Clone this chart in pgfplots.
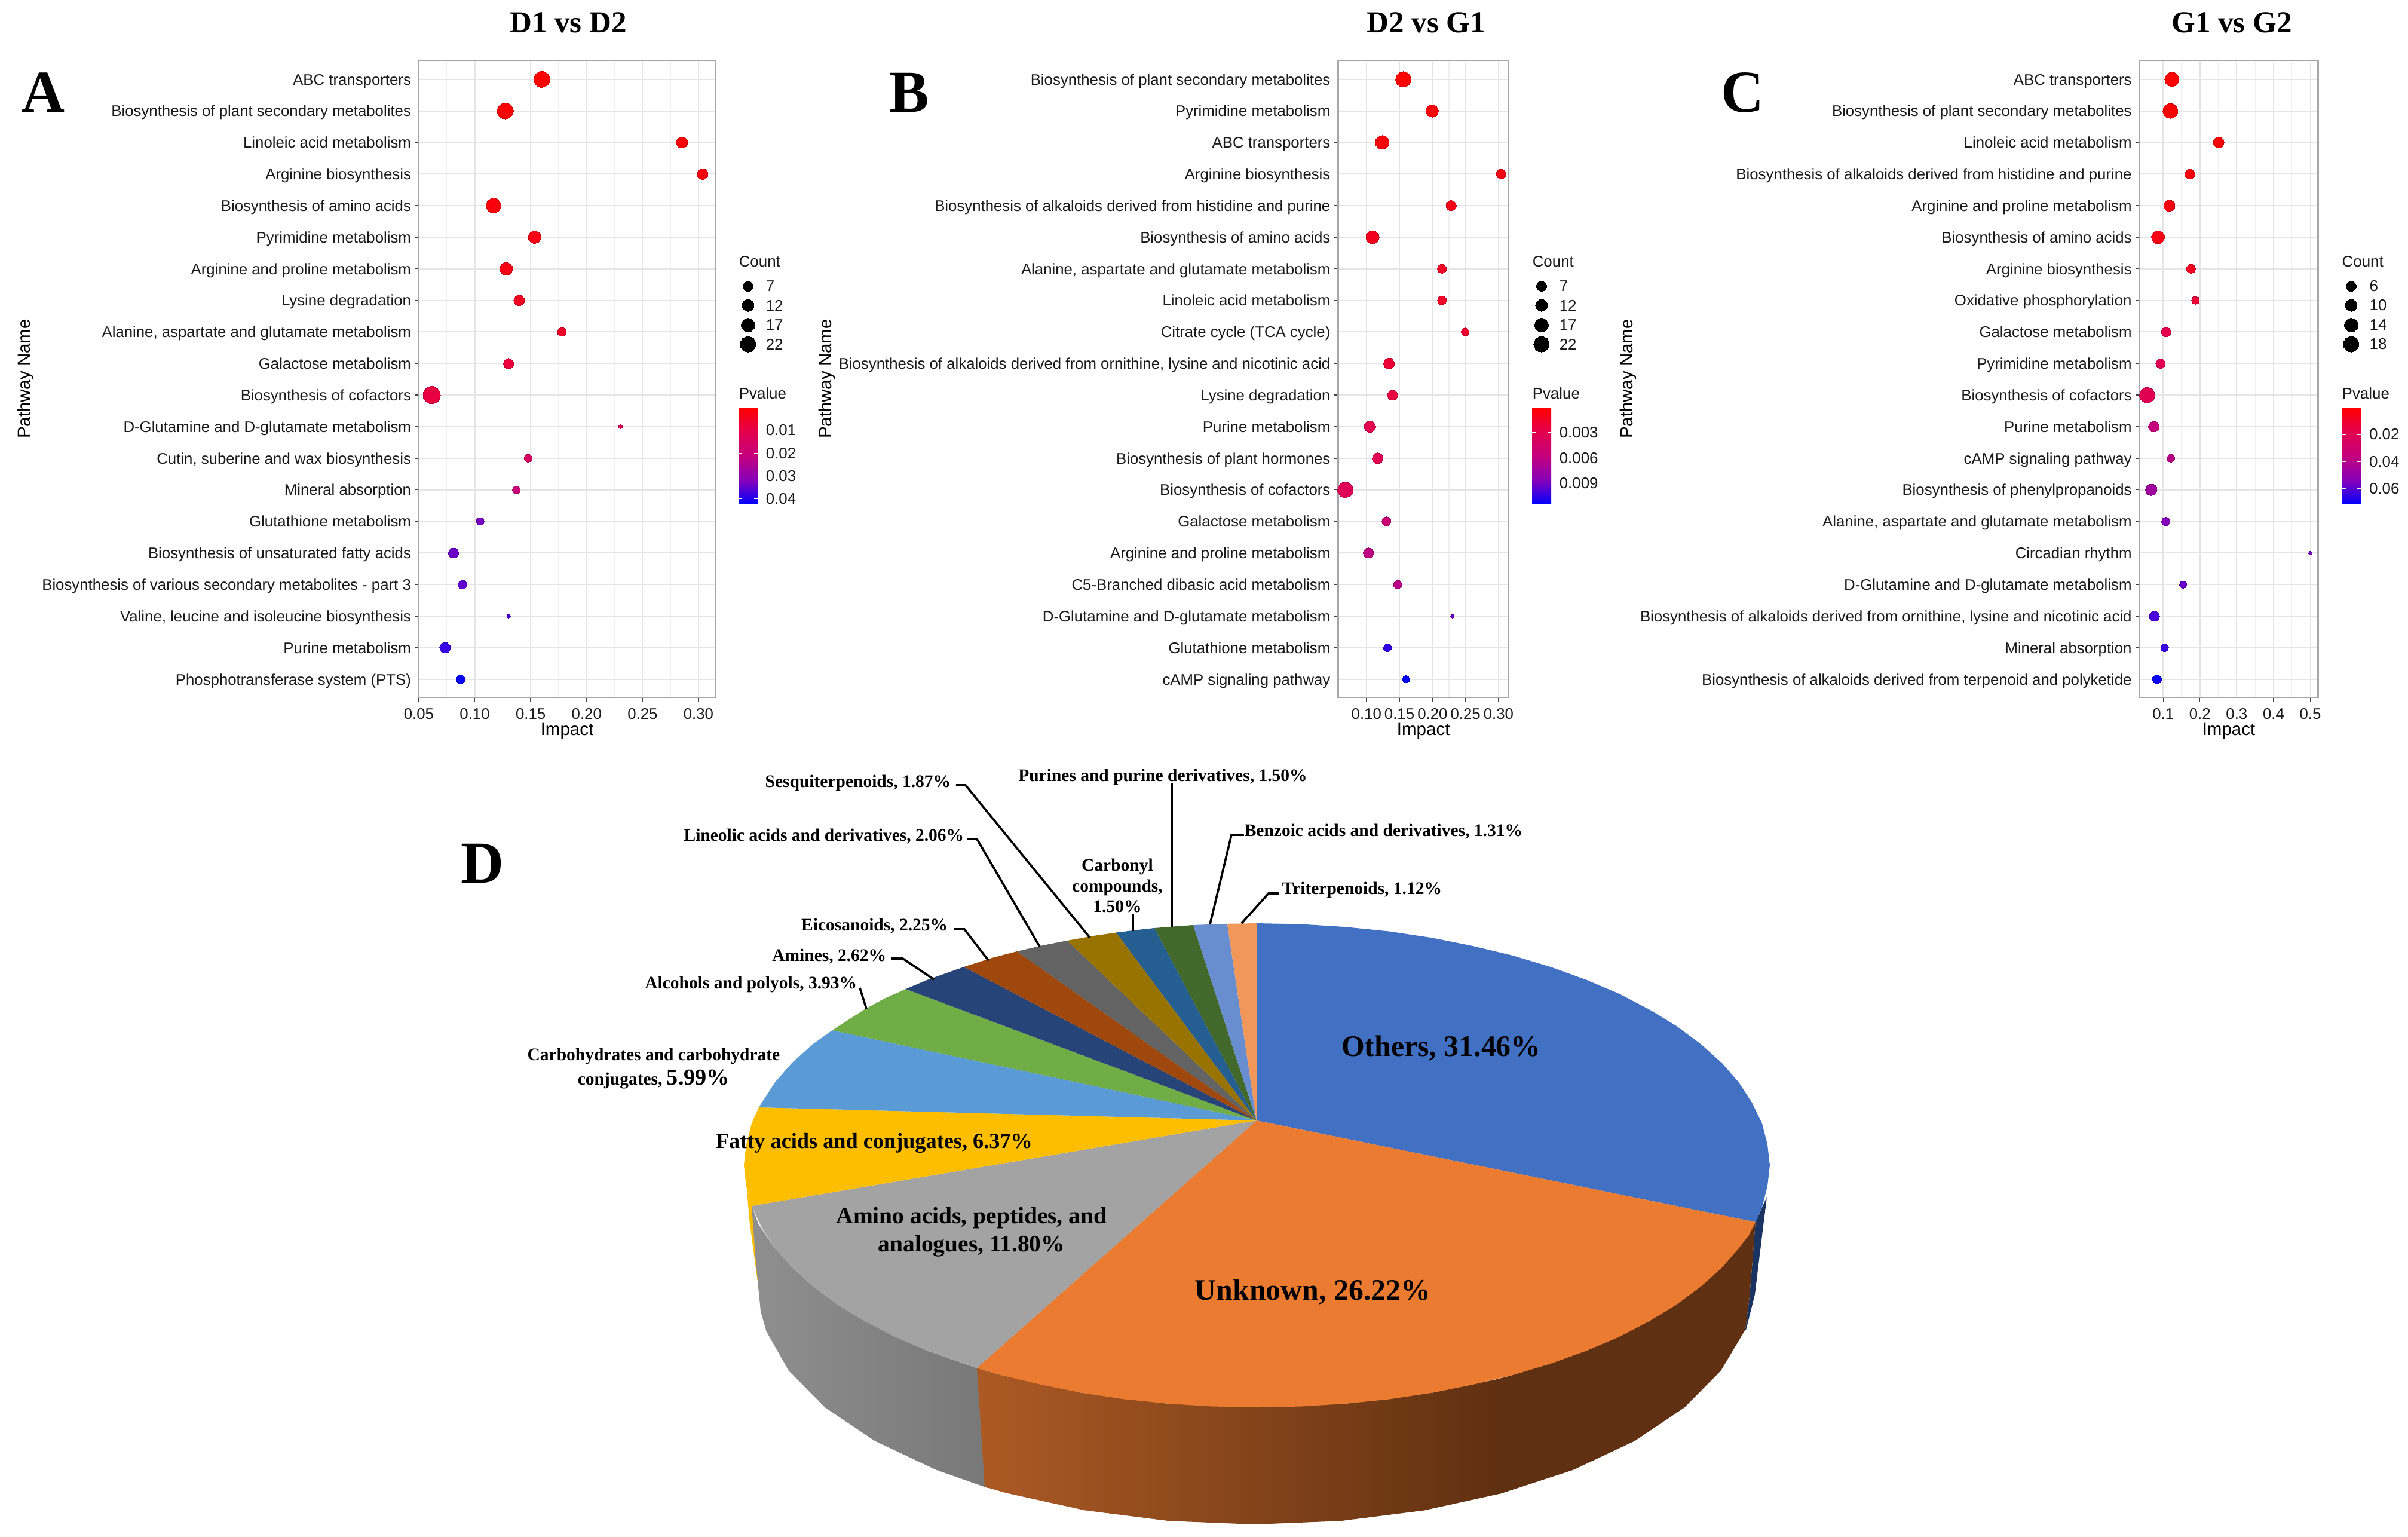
\documentclass[border=0pt]{standalone}
\usepackage{fontspec}
\setmainfont{Liberation Sans}
\newfontfamily\tnr{Liberation Serif}
\usepackage{pgfplots}
\usepackage{pgfplotstable}
\pgfplotsset{compat=1.18}
\usetikzlibrary{calc}
\newcommand\fs[1]{\fontsize{#1}{#1}\selectfont}

% pie colours
\definecolor{cOthers}{HTML}{4271C3}
\definecolor{cUnknown}{HTML}{EA7B30}
\definecolor{cAmino}{HTML}{A3A3A3}
\definecolor{cFatty}{HTML}{FDBE00}
\definecolor{cCarb}{HTML}{5B9BD5}
\definecolor{cAlc}{HTML}{70AD47}
\definecolor{cAmines}{HTML}{264478}
\definecolor{cEico}{HTML}{9E480E}
\definecolor{cLineo}{HTML}{636363}
\definecolor{cSesq}{HTML}{997300}
\definecolor{cCarbonyl}{HTML}{255E91}
\definecolor{cPurines}{HTML}{43682B}
\definecolor{cBenzoic}{HTML}{698ED0}
\definecolor{cTriter}{HTML}{F1975A}
\definecolor{cWallBlue}{HTML}{1B3361}

% impact, row, dot diameter (px of the reference), p value
\pgfplotstableread{
impact row d p
0.160 0 27 0.0003
0.1273 1 27 0.0005
0.2852 2 19 0.0010
0.3038 3 18 0.0015
0.1168 4 25 0.0020
0.1535 5 21 0.0030
0.1282 6 21 0.0030
0.1397 7 18 0.0050
0.1779 8 15 0.0060
0.1302 9 17 0.0080
0.0615 10 29 0.0090
0.2303 11 7 0.0120
0.1478 12 13 0.0150
0.1373 13 13 0.0200
0.1049 14 13 0.0330
0.0810 15 17 0.0340
0.0891 16 15 0.0350
0.1302 17 6 0.0370
0.0734 18 18 0.0380
0.0872 19 15 0.0420
}\tabA
\pgfplotstableread{
impact row d p
0.1560 0 26 0.0002
0.1996 1 21 0.0004
0.1241 2 23 0.0005
0.3039 3 16 0.0008
0.2284 4 17 0.0010
0.1093 5 22 0.0012
0.2144 6 15 0.0015
0.2144 7 15 0.0015
0.2494 8 13 0.0018
0.1342 9 18 0.0020
0.1397 10 17 0.0025
0.1054 11 19 0.0030
0.1171 12 18 0.0032
0.0681 13 26 0.0034
0.1303 14 15 0.0052
0.1031 15 17 0.0060
0.1475 16 14 0.0063
0.2300 17 6 0.0092
0.1319 18 13 0.0105
0.1600 19 12 0.0115
}\tabB
\pgfplotstableread{
impact row d p
0.1238 0 24 0.0005
0.1196 1 25 0.0008
0.2510 2 18 0.0020
0.1727 3 17 0.0030
0.1168 4 19 0.0040
0.0860 5 22 0.0050
0.1755 6 15 0.0080
0.1880 7 13 0.0130
0.1080 8 16 0.0180
0.0930 9 16 0.0200
0.0566 10 26 0.0200
0.0748 11 18 0.0350
0.1210 12 13 0.0390
0.0678 13 19 0.0460
0.1070 14 14 0.0540
0.5000 15 6 0.0560
0.1545 16 12 0.0580
0.0762 17 17 0.0620
0.1040 18 13 0.0640
0.0832 19 15 0.0700
}\tabC

% size legends, in reference px
\pgfplotstableread{
x y d
1252 479 17
1252 511 20
1252 544 23
1252 576 26
2580 479 17
2580 511 20
2580 544 23
2580 576 26
3935 479 17
3935 511 20
3935 544 23
3935 576 26
}\tabSizes

\pgfplotsset{
  panel/.style={
    scale only axis, height=266.5bp, anchor=south west, clip=false,
    y dir=reverse, ymin=-0.6, ymax=19.573, ytick={0,...,19},
    grid=both, minor x tick num=1, minor tick length=0pt,
    major grid style={draw=black!10, line width=0.5bp},
    minor grid style={draw=black!6, line width=0.3bp},
    axis line style={draw=black!35, line width=0.7bp},
    tick align=outside, major tick length=1.75bp,
    tick style={draw=black!75, line width=0.35bp},
    xtick pos=bottom, ytick pos=left,
    ticklabel style={font=\fs{6.47}, text=black!90},
    yticklabel style={inner sep=1.3bp, text height=4.66bp, text depth=0pt},
    xticklabel style={inner sep=2.6bp},
    xlabel=Impact, ylabel=Pathway Name,
    label style={font=\fs{7.4}},
    xlabel style={at={(axis description cs:0.5,0)}, anchor=center, yshift=-14bp},
    colormap={pv}{rgb255=(255,0,0) rgb255=(228,0,78) rgb255=(195,0,125) rgb255=(135,0,185) rgb255=(0,0,255)},
    colorbar shift/.style={xshift=0pt},
  },
  pvbar/.style={
    at={($(parent axis.south east)+(#1,80.75bp)$)}, anchor=south west,
    width=8bp, height=40.5bp, y dir=reverse, scaled y ticks=false,
    axis line style={draw=none},
    ytick pos=both, yticklabel pos=right, tick align=inside,
    major tick length=1.6bp, tick style={draw=white, line width=0.3bp},
    yticklabel style={font=\fs{6.5}, text=black!90, inner sep=0pt, xshift=3.25bp},
  },
  pts/.style={
    scatter, only marks, mark=*, scatter src=explicit,
    mark options={line width=0pt},
    visualization depends on={0.1255*\thisrow{d} \as \msz},
    scatter/@pre marker code/.append style={/tikz/mark size=\msz},
  },
  rim/.style={draw=none, forget plot},
  lead/.style={draw=black, line width=0.9bp, forget plot},
}
\tikzset{
  small/.style={inner sep=0pt, font=\tnr\bfseries\fs{7.4}, text height=0.7em, text depth=0.2em},
  leg/.style={inner sep=0pt, anchor=west, font=\fs{6.5}, text=black!90},
}

\begin{document}
\begin{tikzpicture}
\path[use as bounding box] (0,0) rectangle (1007.5bp,643bp);

% whole figure, in reference px: pie, leaders, letters, legends
\begin{axis}[
  at={(0bp,0bp)}, anchor=south west, scale only axis, width=1007.5bp, height=643bp,
  xmin=0, xmax=4030, ymin=0, ymax=2572, y dir=reverse, hide axis, clip=false,
]
% side wall
\addplot[rim, fill=cFatty] coordinates {(1250,1990) (1254,2040) (1262,2100) (1270,2160) (1276,2196) (1266,2110) (1258,2018)};
\addplot[rim, fill=cWallBlue] coordinates {(2957,2003) (2947,2084) (2937,2166) (2922,2226) (2921,2225) (2928,2170) (2933,2110) (2938,2045)};
\addplot[rim, left color=black!44, right color=black!53] coordinates {(1258,2018) (1270,2050) (1296.8,2088.5) (1360,2152.5) (1445.9,2210.3) (1551.7,2260.2) (1640,2291) (1653,2490) (1566.5,2459.5) (1464.2,2411.3) (1381.2,2355.5) (1320,2293.7) (1282.6,2227.9) (1273,2194) (1264,2100)};
\addplot[rim, left color={rgb,255:red,172;green,90;blue,36}, right color={rgb,255:red,95;green,48;blue,17}] coordinates {(1635,2289) (1674.2,2300.7) (1809.9,2330.6) (1954.4,2348.8) (2103.5,2355) (2252.6,2348.8) (2397.1,2330.6) (2510,2307) (2515,2498.6) (2383.9,2527.4) (2244.1,2545.1) (2100,2551) (1955.9,2545.1) (1816.1,2527.4) (1685,2498.6) (1648,2488)};
\addplot[rim, fill={rgb,255:red,95;green,48;blue,17}] coordinates {(2509,2307) (2532.8,2300.7) (2655.3,2260.2) (2761.1,2210.3) (2847,2152.5) (2910.2,2088.5) (2938,2045) (2933,2110) (2928,2170) (2921,2225) (2880,2293.7) (2818.8,2355.5) (2735.8,2411.3) (2633.5,2459.5) (2514,2498.6)};
% top face, wedge outlines
\addplot[rim, fill=cOthers] coordinates {(2103,1875) (2103.5,1545) (2178,1546.5) (2252.6,1551.2) (2325,1558.5) (2397.1,1569.4) (2465,1583) (2532.8,1599.3) (2595,1618) (2655.3,1639.8) (2710,1663) (2761.1,1689.7) (2806,1717) (2847,1747.5) (2882,1779) (2910.2,1811.5) (2932,1845) (2948.9,1879.7) (2958,1915) (2962,1950) (2958,1985) (2948.9,2020.3) (2938,2045)};
\addplot[rim, fill=cUnknown] coordinates {(2103,1875) (2938,2045) (2927,2067) (2910.2,2088.5) (2882,2121) (2847,2152.5) (2806,2183) (2761.1,2210.3) (2710,2237) (2655.3,2260.2) (2595,2282) (2532.8,2300.7) (2465,2317) (2397.1,2330.6) (2325,2341.5) (2252.6,2348.8) (2178,2353.5) (2103.5,2355) (2029,2353.5) (1954.4,2348.8) (1882,2341.5) (1809.9,2330.6) (1742,2317) (1674.2,2300.7) (1635,2289)};
\addplot[rim, fill=cAmino] coordinates {(2103,1875) (1635,2289) (1551.7,2260.2) (1497,2237) (1445.9,2210.3) (1401,2183) (1360,2152.5) (1325,2121) (1296.8,2088.5) (1275,2055) (1258,2018)};
\addplot[rim, fill=cFatty] coordinates {(2103,1875) (1258,2018) (1249,1985) (1245,1950) (1249,1915) (1258.1,1879.7) (1270,1853)};
\addplot[rim, fill=cCarb] coordinates {(2103,1875) (1270,1853) (1296.8,1811.5) (1325,1779) (1360,1747.5) (1393,1724)};
\addplot[rim, fill=cAlc] coordinates {(2103,1875) (1393,1724) (1445.9,1689.7) (1480,1671) (1516,1655)};
\addplot[rim, fill=cAmines] coordinates {(2103,1875) (1516,1655) (1551.7,1639.8) (1613,1618)};
\addplot[rim, fill=cEico] coordinates {(2103,1875) (1613,1618) (1660,1603) (1702,1592)};
\addplot[rim, fill=cLineo] coordinates {(2103,1875) (1702,1592) (1745,1582) (1786,1574)};
\addplot[rim, fill=cSesq] coordinates {(2103,1875) (1786,1574) (1830,1566) (1868,1560.5)};
\addplot[rim, fill=cCarbonyl] coordinates {(2103,1875) (1868,1560.5) (1900,1556.5) (1932,1553)};
\addplot[rim, fill=cPurines] coordinates {(2103,1875) (1932,1553) (1965,1550.3) (1997,1548)};
\addplot[rim, fill=cBenzoic] coordinates {(2103,1875) (1997,1548) (2054,1545.8)};
\addplot[rim, fill=cTriter] coordinates {(2103,1875) (2054,1545.8) (2103.5,1545)};
% leader lines
\addplot[lead] coordinates {(1600,1314) (1616,1314) (1824,1569)};
\addplot[lead] coordinates {(1619,1404) (1635,1404) (1740,1584)};
\addplot[lead] coordinates {(1961,1311) (1961,1552)};
\addplot[lead] coordinates {(2082,1397) (2061,1397) (2025,1547)};
\addplot[lead] coordinates {(2141,1495) (2123,1495) (2078,1545)};
\addplot[lead] coordinates {(1896,1530) (1896,1558)};
\addplot[lead] coordinates {(1597,1555) (1614,1555) (1654,1607)};
\addplot[lead] coordinates {(1492,1604) (1511,1604) (1563,1639)};
\addplot[lead] coordinates {(1439,1653) (1450,1688)};
% count legends
\addplot[scatter, only marks, mark=*, forget plot, point meta=0,
  scatter/use mapped color={draw=black, fill=black}, mark options={line width=0pt},
  visualization depends on={0.1255*\thisrow{d} \as \msz},
  scatter/@pre marker code/.append style={/tikz/mark size=\msz}]
  table[x=x, y=y] \tabSizes;
% titles and letters
\foreach \xx/\tt in {951/D1 vs D2, 2387/D2 vs G1, 3735/G1 vs G2}{
  \edef\tmp{\noexpand\node[inner sep=0pt, font=\noexpand\tnr\noexpand\bfseries\noexpand\fs{12.8}] at (axis cs:\xx,38) {\tt};}\tmp
}
\foreach \xx/\yy/\tt in {36/187/A, 1488/187/B, 2880/187/C, 771/1477/D}{
  \edef\tmp{\noexpand\node[inner sep=0pt, anchor=base west, font=\noexpand\tnr\noexpand\bfseries\noexpand\fs{25}] at (axis cs:\xx,\yy) {\tt};}\tmp
}
% legend text
\node[leg] at (axis cs:1236,438) {Count};
\node[leg] at (axis cs:1236,658) {Pvalue};
\node[leg] at (axis cs:1281,479) {7};
\node[leg] at (axis cs:1281,511) {12};
\node[leg] at (axis cs:1281,544) {17};
\node[leg] at (axis cs:1281,576) {22};
\node[leg] at (axis cs:2564,438) {Count};
\node[leg] at (axis cs:2564,658) {Pvalue};
\node[leg] at (axis cs:2609,479) {7};
\node[leg] at (axis cs:2609,511) {12};
\node[leg] at (axis cs:2609,544) {17};
\node[leg] at (axis cs:2609,576) {22};
\node[leg] at (axis cs:3919,438) {Count};
\node[leg] at (axis cs:3919,658) {Pvalue};
\node[leg] at (axis cs:3965,479) {6};
\node[leg] at (axis cs:3965,511) {10};
\node[leg] at (axis cs:3965,544) {14};
\node[leg] at (axis cs:3965,576) {18};
% pie text
\node[small, anchor=center] at (axis cs:1946,1298) {Purines and purine derivatives, 1.50\%};
\node[small, anchor=east] at (axis cs:1592,1308) {Sesquiterpenoids, 1.87\%};
\node[small, anchor=east] at (axis cs:1614,1398) {Lineolic acids and derivatives, 2.06\%};
\node[small, anchor=west] at (axis cs:2082,1390) {Benzoic acids and derivatives, 1.31\%};
\node[small, anchor=west] at (axis cs:2145,1487) {Triterpenoids, 1.12\%};
\node[small, anchor=center] at (axis cs:1870,1448) {Carbonyl};
\node[small, anchor=center] at (axis cs:1870,1483) {compounds,};
\node[small, anchor=center] at (axis cs:1870,1517) {1.50\%};
\node[small, anchor=east] at (axis cs:1587,1548) {Eicosanoids, 2.25\%};
\node[small, anchor=east] at (axis cs:1484,1599) {Amines, 2.62\%};
\node[small, anchor=east] at (axis cs:1435,1645) {Alcohols and polyols, 3.93\%};
\node[small, anchor=center] at (axis cs:1094,1765) {Carbohydrates and carbohydrate};
\node[small, anchor=center] at (axis cs:1094,1806) {conjugates, {\fs{9.6}5.99\%}};
\node[small, anchor=center, font=\tnr\bfseries\fs{9.1}] at (axis cs:1463,1912) {Fatty acids and conjugates, 6.37\%};
\node[small, anchor=center, font=\tnr\bfseries\fs{9.9}] at (axis cs:1626,2038) {Amino acids, peptides, and};
\node[small, anchor=center, font=\tnr\bfseries\fs{9.9}] at (axis cs:1626,2085) {analogues, 11.80\%};
\node[small, anchor=center, font=\tnr\bfseries\fs{12.5}] at (axis cs:2197,2166) {Unknown, 26.22\%};
\node[small, anchor=center, font=\tnr\bfseries\fs{12.5}] at (axis cs:2412,1758) {Others, 31.46\%};
\end{axis}

% A
\begin{axis}[panel, at={(175.25bp,351.25bp)}, width=124bp,
  xmin=0.05, xmax=0.315, xtick={0.05,0.10,0.15,0.20,0.25,0.30},
  xticklabels={0.05,0.10,0.15,0.20,0.25,0.30},
  ylabel style={at={(axis description cs:0,0.5)}, anchor=center, yshift=164.5bp},
  yticklabels={ABC transporters, Biosynthesis of plant secondary metabolites, Linoleic acid metabolism, Arginine biosynthesis, Biosynthesis of amino acids, Pyrimidine metabolism, Arginine and proline metabolism, Lysine degradation, {Alanine, aspartate and glutamate metabolism}, Galactose metabolism, Biosynthesis of cofactors, D-Glutamine and D-glutamate metabolism, {Cutin, suberine and wax biosynthesis}, Mineral absorption, Glutathione metabolism, Biosynthesis of unsaturated fatty acids, Biosynthesis of various secondary metabolites - part 3, {Valine, leucine and isoleucine biosynthesis}, Purine metabolism, Phosphotransferase system (PTS)},
  point meta min=0.0001, point meta max=0.0424, colorbar,
  colorbar style={pvbar=9.75bp, ytick={0.01,0.02,0.03,0.04}, yticklabels={0.01,0.02,0.03,0.04}},
]
\addplot[pts] table[x=impact, y=row, meta=p] \tabA;
\end{axis}

% B
\begin{axis}[panel, at={(559.85bp,351.25bp)}, width=71.4bp,
  xmin=0.0572, xmax=0.3154, xtick={0.10,0.15,0.20,0.25,0.30},
  xticklabels={0.10,0.15,0.20,0.25,0.30},
  ylabel style={at={(axis description cs:0,0.5)}, anchor=center, yshift=214bp},
  yticklabels={Biosynthesis of plant secondary metabolites, Pyrimidine metabolism, ABC transporters, Arginine biosynthesis, Biosynthesis of alkaloids derived from histidine and purine, Biosynthesis of amino acids, {Alanine, aspartate and glutamate metabolism}, Linoleic acid metabolism, Citrate cycle (TCA cycle), {Biosynthesis of alkaloids derived from ornithine, lysine and nicotinic acid}, Lysine degradation, Purine metabolism, Biosynthesis of plant hormones, Biosynthesis of cofactors, Galactose metabolism, Arginine and proline metabolism, C5-Branched dibasic acid metabolism, D-Glutamine and D-glutamate metabolism, Glutathione metabolism, cAMP signaling pathway},
  point meta min=0.00005, point meta max=0.0115, colorbar,
  colorbar style={pvbar=9.75bp, ytick={0.003,0.006,0.009}, yticklabels={0.003,0.006,0.009}},
]
\addplot[pts] table[x=impact, y=row, meta=p] \tabB;
\end{axis}

% C
\begin{axis}[panel, at={(895.15bp,351.25bp)}, width=74.7bp,
  xmin=0.0357, xmax=0.521, xtick={0.1,0.2,0.3,0.4,0.5},
  xticklabels={0.1,0.2,0.3,0.4,0.5},
  ylabel style={at={(axis description cs:0,0.5)}, anchor=center, yshift=213.9bp},
  yticklabels={ABC transporters, Biosynthesis of plant secondary metabolites, Linoleic acid metabolism, Biosynthesis of alkaloids derived from histidine and purine, Arginine and proline metabolism, Biosynthesis of amino acids, Arginine biosynthesis, Oxidative phosphorylation, Galactose metabolism, Pyrimidine metabolism, Biosynthesis of cofactors, Purine metabolism, cAMP signaling pathway, Biosynthesis of phenylpropanoids, {Alanine, aspartate and glutamate metabolism}, Circadian rhythm, D-Glutamine and D-glutamate metabolism, {Biosynthesis of alkaloids derived from ornithine, lysine and nicotinic acid}, Mineral absorption, Biosynthesis of alkaloids derived from terpenoid and polyketide},
  point meta min=0.0001, point meta max=0.0716, colorbar,
  colorbar style={pvbar=9.95bp, ytick={0.02,0.04,0.06}, yticklabels={0.02,0.04,0.06}},
]
\addplot[pts] table[x=impact, y=row, meta=p] \tabC;
\end{axis}
\end{tikzpicture}
\end{document}
